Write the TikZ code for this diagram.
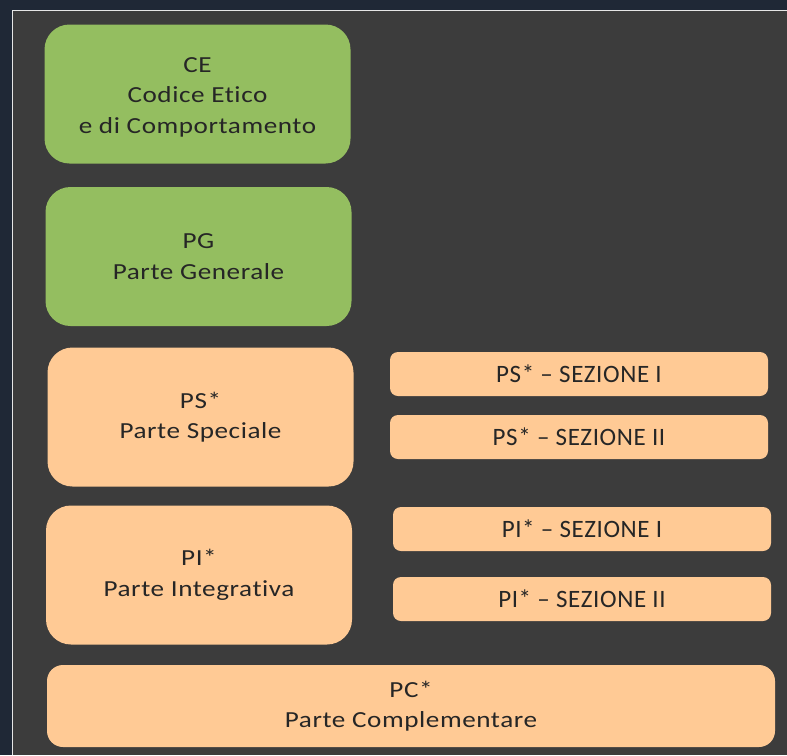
\documentclass[tikz,border=0pt]{standalone}
\usepackage{fontspec}
\setmainfont{Carlito}[FakeStretch=1.18, LetterSpace=2.5, Ligatures=CommonOff]
\newfontfamily\sezfont{Carlito}[LetterSpace=2.4, Ligatures=CommonOff]
\definecolor{pagenavy}{HTML}{1F2836}
\definecolor{slidegrey}{HTML}{3C3C3C}
\definecolor{framewhite}{HTML}{E6E6E6}
\definecolor{boxgreen}{HTML}{94BE60}
\definecolor{boxpeach}{HTML}{FFCA95}
\definecolor{boxtext}{HTML}{262626}
\tikzset{
  part/.style={rounded corners=25pt, minimum width=306pt, minimum height=139pt,
    inner sep=0pt, align=center, text=boxtext,
    font=\fontsize{23}{30.5}\selectfont},
  sezione/.style={rounded corners=8pt, minimum width=378pt, minimum height=44pt,
    inner sep=0pt, fill=boxpeach, text=boxtext,
    font=\sezfont\fontsize{25}{30}\selectfont}
}
\begin{document}
\begin{tikzpicture}[x=1pt,y=-1pt]
    \useasboundingbox (0,0) rectangle (787,755);
    \fill[pagenavy] (0,0) rectangle (787,755);
    \fill[slidegrey] (13,11) rectangle (787,755);
    \draw[framewhite, line width=1.5pt] (12.5,755) -- (12.5,10.5) -- (787,10.5);
    % parti del modello
    \node[part, fill=boxgreen] (ce) at (197.5,94) {\rule{0pt}{21pt}CE\\Codice Etico\\e di Comportamento};
    \node[part, fill=boxgreen] (pg) at (198.5,256.5) {PG\\Parte Generale};
    \node[part, fill=boxpeach] (ps) at (200.5,417) {PS*\\Parte Speciale};
    \node[part, fill=boxpeach] (pi) at (199,575) {PI*\\Parte Integrativa};
    \node[part, fill=boxpeach, minimum width=728pt, minimum height=82pt,
      rounded corners=16pt] (pc) at (411,706) {PC*\\Parte Complementare};
    % sezioni
    \node[sezione] (ps1) at (579,374) {PS* – SEZIONE I};
    \node[sezione] (ps2) at (579,437) {PS* – SEZIONE II};
    \node[sezione] (pi1) at (582,529) {PI* – SEZIONE I};
    \node[sezione] (pi2) at (582,599) {PI* – SEZIONE II};
\end{tikzpicture}
\end{document}
